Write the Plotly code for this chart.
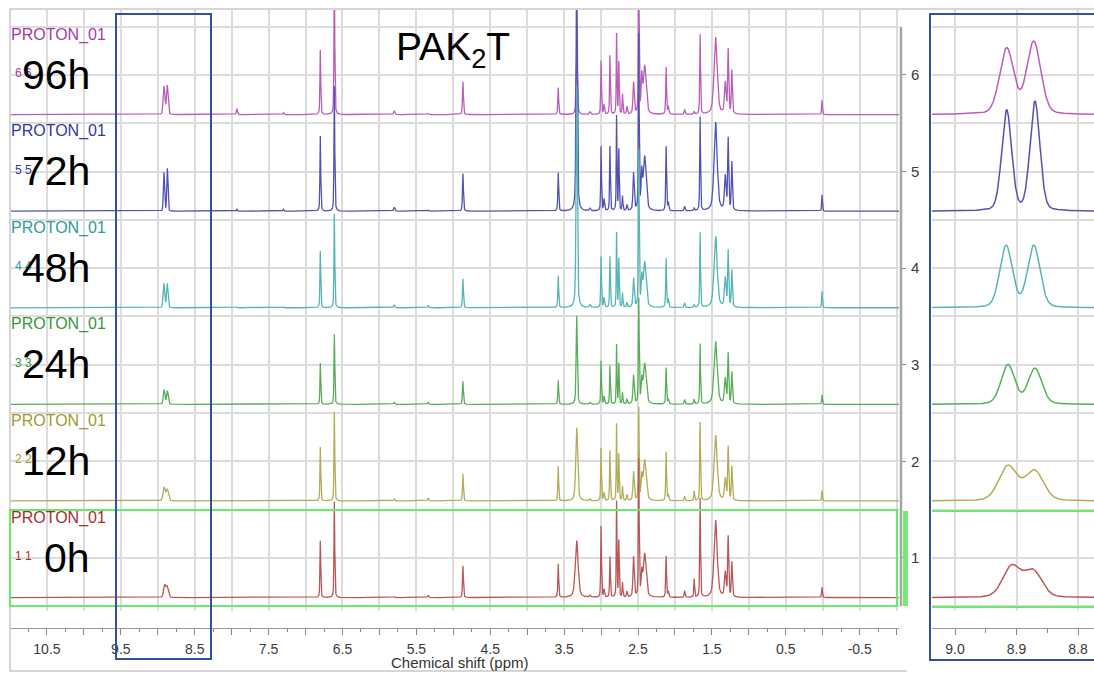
import numpy as np
import plotly.graph_objects as go

W, H = 1094, 673
FONT = "Liberation Sans, Arial, sans-serif"

# ---------------- data ----------------
spectrum_labels = ["0h", "12h", "24h", "48h", "72h", "96h"]
index_labels = ["1 1", "2 2", "3 3", "4 4", "5 5", "6 6"]
experiment_name = "PROTON_01"
baseline_offsets = [0.59, 1.59, 2.59, 3.59, 4.59, 5.59]

line_colors = ["#BA5656", "#B2AC56", "#58AE58", "#55B5B5", "#5252B6", "#BB5CBB"]
label_colors = ["#A32E2E", "#A09A30", "#3A963A", "#2F9A9A", "#3636A2", "#A43CA4"]

# singlet / multiplet lines of the main spectra (ppm, FWHM in ppm)
peak_ppm = [7.93, 7.30, 6.80, 6.61, 5.80, 5.34, 4.87, 3.58, 3.15, 3.00,
            2.96, 2.88, 2.79, 2.76, 2.71, 2.65, 2.56, 2.49, 2.45, 2.41,
            2.12, 2.09, 1.87, 1.74, 1.66, 1.45, 1.32, 1.28, 1.23, 0.01]
peak_width = [0.015, 0.015, 0.012, 0.012, 0.02, 0.02, 0.014, 0.013, 0.02, 0.012,
              0.015, 0.012, 0.011, 0.011, 0.012, 0.015, 0.02, 0.012, 0.02, 0.045,
              0.013, 0.015, 0.015, 0.013, 0.012, 0.05, 0.025, 0.016, 0.016, 0.012]
heights_0h = [0, 0, 0.59, 1.00, 0.01, 0.02, 0.33, 0.35, 0.02, 0.74,
              0.08, 0.42, 1.00, 0.58, 0.15, 0.06, 0.42, 1.41, 0.22, 0.45,
              0.43, 0.06, 0.07, 0.19, 1.03, 0.80, 0.25, 0.62, 0.36, 0.11]
heights_12h = [0, 0, 0.56, 0.93, 0.02, 0.03, 0.28, 0.36, 0.02, 0.55,
               0.08, 0.52, 0.80, 0.48, 0.15, 0.06, 0.30, 0.95, 0.22, 0.42,
               0.51, 0.06, 0.05, 0.10, 0.82, 0.68, 0.22, 0.55, 0.35, 0.11]
heights_24h = [0, 0, 0.43, 0.73, 0.02, 0.02, 0.24, 0.25, 0.02, 0.45,
               0.08, 0.40, 0.62, 0.42, 0.12, 0.05, 0.30, 1.08, 0.22, 0.42,
               0.38, 0.05, 0.05, 0.05, 0.63, 0.65, 0.26, 0.52, 0.33, 0.10]
heights_48h = [0.01, 0.01, 0.59, 0.98, 0.03, 0.02, 0.30, 0.33, 0.03, 0.53,
               0.10, 0.53, 0.78, 0.50, 0.15, 0.05, 0.30, 1.62, 0.27, 0.47,
               0.51, 0.08, 0.05, 0.03, 0.78, 0.74, 0.30, 0.58, 0.38, 0.17]
heights_72h = [0.02, 0.02, 0.78, 1.30, 0.04, 0.01, 0.39, 0.40, 0.03, 0.67,
               0.12, 0.67, 0.99, 0.63, 0.15, 0.06, 0.39, 1.81, 0.35, 0.56,
               0.67, 0.08, 0.05, 0.03, 0.98, 0.92, 0.35, 0.74, 0.50, 0.17]
heights_96h = [0.06, 0.02, 0.67, 1.50, 0.04, 0.01, 0.34, 0.28, 0.03, 0.56,
               0.10, 0.61, 0.84, 0.54, 0.21, 0.08, 0.33, 1.50, 0.35, 0.50,
               0.49, 0.08, 0.05, 0.03, 0.83, 0.80, 0.32, 0.66, 0.45, 0.15]

# water signal (3.33 ppm) per spectrum
water_ppm = 3.33
water_height = [0.59, 0.76, 0.92, 2.30, 2.60, 0.60]
water_width = [0.045, 0.03, 0.018, 0.02, 0.02, 0.02]

# aromatic doublet near 8.9 ppm (zoomed in the inset)
doublet_ppm_a = [8.908, 8.914, 8.914, 8.917, 8.916, 8.916]
doublet_ppm_b = [8.873, 8.871, 8.870, 8.872, 8.870, 8.872]
doublet_width = [0.034, 0.035, 0.026, 0.024, 0.019, 0.027]
doublet_main_a = [0.13, 0.14, 0.15, 0.25, 0.40, 0.29]
doublet_main_b = [0.11, 0.12, 0.14, 0.25, 0.44, 0.30]
inset_a = [0.32, 0.36, 0.41, 0.64, 1.04, 0.68]
inset_b = [0.27, 0.31, 0.37, 0.64, 1.13, 0.75]

x_tick_values = [10.5, 10.0, 9.5, 9.0, 8.5, 8.0, 7.5, 7.0, 6.5, 6.0, 5.5, 5.0, 4.5,
                 4.0, 3.5, 3.0, 2.5, 2.0, 1.5, 1.0, 0.5, 0.0, -0.5, -1.0]
x_tick_labels = ["10.5", "", "9.5", "", "8.5", "", "7.5", "", "6.5", "", "5.5", "",
                 "4.5", "", "3.5", "", "2.5", "", "1.5", "", "0.5", "", "-0.5", ""]
y_tick_values = [1, 2, 3, 4, 5, 6]
inset_tick_values = [9.0, 8.9, 8.8]
inset_tick_labels = ["9.0", "8.9", "8.8"]

all_heights = [heights_0h, heights_12h, heights_24h, heights_48h, heights_72h, heights_96h]

# ---------------- line shape ----------------
def pvoigt(x, x0, h, w, eta):
    d = (x - x0) / w
    return h * (eta / (1.0 + 4.0 * d * d) + (1.0 - eta) * np.exp(-4.0 * np.log(2.0) * d * d))

X_LEFT, X_RIGHT = 11.0, -1.032
Y_BOT, Y_TOP = 0.451, 6.683
INSET_LEFT, INSET_RIGHT = 9.0374, 8.774

ppm_main = np.linspace(X_LEFT, X_RIGHT, 9000)
ppm_inset = np.linspace(INSET_LEFT, INSET_RIGHT, 700)

def xp(px):
    return px / W

def yp(py):
    return 1 - py / H

fig = go.Figure()

# draw top spectrum first, so lower spectra sit on top
for k in reversed(range(6)):
    y = np.full_like(ppm_main, baseline_offsets[k])
    for p, w, h in zip(peak_ppm, peak_width, all_heights[k]):
        y += pvoigt(ppm_main, p, h, w, 0.5)
    y += pvoigt(ppm_main, water_ppm, water_height[k], water_width[k], 0.5)
    y += pvoigt(ppm_main, doublet_ppm_a[k], doublet_main_a[k], doublet_width[k], 0.2)
    y += pvoigt(ppm_main, doublet_ppm_b[k], doublet_main_b[k], doublet_width[k], 0.2)
    fig.add_trace(go.Scatter(x=ppm_main, y=y, mode="lines",
                             line=dict(color=line_colors[k], width=1.3),
                             xaxis="x", yaxis="y", hoverinfo="skip", showlegend=False))

for k in reversed(range(6)):
    yi = np.full_like(ppm_inset, baseline_offsets[k])
    yi += pvoigt(ppm_inset, doublet_ppm_a[k], inset_a[k], doublet_width[k], 0.2)
    yi += pvoigt(ppm_inset, doublet_ppm_b[k], inset_b[k], doublet_width[k], 0.2)
    fig.add_trace(go.Scatter(x=ppm_inset, y=yi, mode="lines",
                             line=dict(color=line_colors[k], width=1.5),
                             xaxis="x2", yaxis="y2", hoverinfo="skip", showlegend=False))

GRID = "#DCDCDC"
main_dom_x = [xp(10), xp(899)]
dom_y = [yp(611), yp(9)]
axis_pos = yp(628)

fig.update_layout(
    width=W, height=H,
    margin=dict(l=0, r=0, t=0, b=0),
    paper_bgcolor="white", plot_bgcolor="white",
    font=dict(family=FONT, color="#333333"),
    showlegend=False,
    xaxis=dict(domain=main_dom_x, range=[X_LEFT, X_RIGHT], anchor="free", position=axis_pos,
               tickmode="array", tickvals=x_tick_values, ticktext=x_tick_labels,
               showgrid=True, gridcolor=GRID, gridwidth=1.5, zeroline=False,
               showline=True, linecolor="#9A9A9A", linewidth=1.2,
               ticks="outside", ticklen=6, tickcolor="#8A8A8A", tickwidth=1.2,
               tickfont=dict(size=14, color="#3A3A3A", family=FONT), ticklabelstandoff=2,
               minor=dict(dtick=0.25, tick0=0, ticks="outside", ticklen=3,
                          tickcolor="#8A8A8A", showgrid=False)),
    yaxis=dict(domain=dom_y, range=[Y_BOT, Y_TOP], anchor="x", side="right",
               tickmode="array", tickvals=y_tick_values,
               ticktext=[str(v) for v in y_tick_values],
               showgrid=True, gridcolor=GRID, gridwidth=1.5, zeroline=False,
               showline=False, ticks="outside", ticklen=6, tickcolor="#8A8A8A",
               tickfont=dict(size=15, color="#3A3A3A", family=FONT), ticklabelstandoff=2,
               minor=dict(dtick=0.5, tick0=0.5, showgrid=True, gridcolor=GRID,
                          gridwidth=1.5, ticks="")),
    xaxis2=dict(domain=[xp(932), 1.0], range=[INSET_LEFT, INSET_RIGHT], anchor="free",
                position=axis_pos, tickmode="array", tickvals=inset_tick_values,
                ticktext=inset_tick_labels, showgrid=True, gridcolor=GRID, gridwidth=1.5,
                zeroline=False, showline=True, linecolor="#9A9A9A", linewidth=1.2,
                ticks="outside", ticklen=6, tickcolor="#8A8A8A", tickwidth=1.2,
                tickfont=dict(size=14, color="#3A3A3A", family=FONT), ticklabelstandoff=2,
                minor=dict(dtick=0.05, tick0=0, ticks="outside", ticklen=4,
                           tickcolor="#8A8A8A", showgrid=False)),
    yaxis2=dict(domain=dom_y, range=[Y_BOT, Y_TOP], anchor="x2",
                showticklabels=False, ticks="", dtick=0.5, tick0=0.5,
                showgrid=True, gridcolor=GRID, gridwidth=1.5, zeroline=False,
                showline=False),
)

shapes = []
FRAME = "#D6D6D6"
shapes.append(dict(type="line", xref="paper", yref="paper", x0=xp(10), x1=1.0,
                   y0=yp(9), y1=yp(9), line=dict(color=FRAME, width=2)))
shapes.append(dict(type="line", xref="paper", yref="paper", x0=xp(10), x1=xp(10),
                   y0=yp(9), y1=yp(671), line=dict(color=FRAME, width=2)))
shapes.append(dict(type="line", xref="paper", yref="paper", x0=xp(10), x1=xp(907),
                   y0=yp(671), y1=yp(671), line=dict(color=FRAME, width=2)))
# right-hand intensity axis line
shapes.append(dict(type="line", xref="paper", yref="y", x0=xp(901), x1=xp(901),
                   y0=0.5, y1=6.5, line=dict(color="#A6A6A6", width=2.5)))
# green highlight of the 0h spectrum
GREEN = "#6CE86C"
shapes.append(dict(type="rect", xref="paper", yref="paper", x0=xp(10), x1=xp(897),
                   y0=yp(606), y1=yp(510), line=dict(color=GREEN, width=2.2)))
shapes.append(dict(type="rect", xref="paper", yref="paper", x0=xp(903), x1=xp(908),
                   y0=yp(606), y1=yp(511), line=dict(width=0), fillcolor="#74EC74",
                   opacity=1.0))
for gy in (511, 607):
    shapes.append(dict(type="line", xref="paper", yref="paper", x0=xp(932), x1=1.0,
                       y0=yp(gy), y1=yp(gy), line=dict(color=GREEN, width=2.2)))
# blue boxes: region of interest and zoomed inset
BLUE = "#3050A0"
shapes.append(dict(type="rect", xref="paper", yref="paper", x0=xp(116), x1=xp(211),
                   y0=yp(659), y1=yp(14), line=dict(color=BLUE, width=2)))
shapes.append(dict(type="rect", xref="paper", yref="paper", x0=xp(930), x1=xp(1100),
                   y0=yp(660), y1=yp(14), line=dict(color=BLUE, width=2)))
fig.update_layout(shapes=shapes)

ann = []
for k in range(6):
    b = baseline_offsets[k]
    ann.append(dict(xref="paper", yref="y", x=xp(9), y=b + 0.828, text=experiment_name,
                    showarrow=False, xanchor="left", yanchor="middle",
                    font=dict(size=16, color=label_colors[k], family=FONT)))
    ann.append(dict(xref="paper", yref="y", x=xp(13), y=b + 0.43, text=index_labels[k],
                    showarrow=False, xanchor="left", yanchor="middle",
                    font=dict(size=12, color=label_colors[k], family=FONT)))
    ann.append(dict(xref="paper", yref="y", x=xp(92), y=b + 0.414, text=spectrum_labels[k],
                    showarrow=False, xanchor="right", yanchor="middle",
                    font=dict(size=41, color="black", family=FONT)))
ann.append(dict(xref="paper", yref="paper", x=xp(453), y=yp(50), text="PAK<sub>2</sub>T",
                showarrow=False, xanchor="center", yanchor="middle",
                font=dict(size=39, color="black", family=FONT)))
ann.append(dict(xref="paper", yref="paper", x=xp(460), y=yp(662), text="Chemical shift (ppm)",
                showarrow=False, xanchor="center", yanchor="middle",
                font=dict(size=15, color="#333333", family=FONT)))
fig.update_layout(annotations=ann)

fig.write_html("out.html")
